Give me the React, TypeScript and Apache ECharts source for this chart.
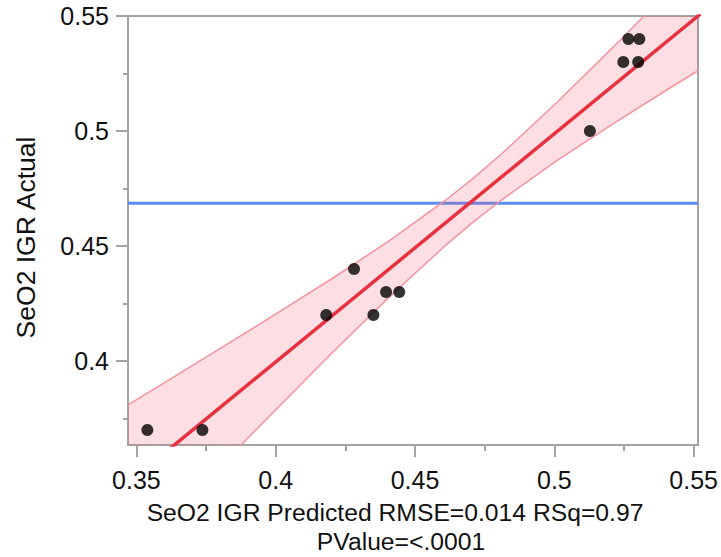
import React, { useEffect, useRef } from "react";
import * as echarts from "echarts";

// Observed points (predicted vs actual)
const predicted = [0.3539, 0.3735, 0.4176, 0.4275, 0.4344, 0.4389, 0.4436, 0.5115, 0.5234, 0.5287, 0.5252, 0.5291];
const actual = [0.37, 0.37, 0.42, 0.44, 0.42, 0.43, 0.43, 0.50, 0.53, 0.53, 0.54, 0.54];

// Fit line (actual = predicted)
const fitX = [0.34, 0.56];
const fitY = [0.34, 0.56];

// Mean of actual (horizontal reference)
const meanX = [0.347, 0.55];
const meanY = [0.4686, 0.4686];

// Confidence band
const bandX = [0.347, 0.36, 0.38, 0.40, 0.42, 0.44, 0.46, 0.47, 0.48, 0.50, 0.52, 0.54, 0.55];
const bandUpper = [0.3809, 0.3906, 0.4056, 0.4207, 0.4361, 0.4522, 0.4698, 0.4795, 0.4900, 0.5127, 0.5367, 0.5613, 0.5738];
const bandLower = [0.3131, 0.3294, 0.3545, 0.3793, 0.4039, 0.4278, 0.4502, 0.4605, 0.4700, 0.4873, 0.5033, 0.5187, 0.5262];

// Axis ranges / ticks
const xRange = [0.347, 0.55];
const yRange = [0.3635, 0.55];
const xTickRange = [0.35, 0.55];
const yMajorRange = [0.4, 0.55];
const yMinorRange = [0.375, 0.525];
const tickStep = 0.05;

const xTitle1 = "SeO2 IGR Predicted RMSE=0.014 RSq=0.97";
const xTitle2 = "PValue=<.0001";
const yTitle = "SeO2 IGR Actual";

const FONT = "'Liberation Sans', Arial, Helvetica, sans-serif";
const GRAY = "#a3a3a3";

export default function App() {
  const ref = useRef<HTMLDivElement>(null);

  useEffect(() => {
    document.body.style.margin = "0";
    if (!ref.current) return;
    const chart = echarts.init(ref.current, null, { renderer: "svg" });

    const hiddenAxis = (gridIndex: number) => ({
      type: "value",
      gridIndex,
      min: 0,
      max: 1,
      show: false,
    });

    const zip = (a: number[], b: number[]) => a.map((v, i) => [v, b[i]]);

    const option: any = {
      animation: false,
      backgroundColor: "#ffffff",
      textStyle: { fontFamily: FONT },
      grid: [
        { left: 128, right: 23, top: 16, bottom: 112, show: true, borderColor: GRAY, borderWidth: 2, backgroundColor: "transparent" },
        { left: 128, right: 23, top: 16, height: 345 },
        { left: 128, right: 23, top: 73.5, height: 345 },
        { left: 136.4, right: 23, top: 16, bottom: 112 },
      ],
      xAxis: [
        { type: "value", gridIndex: 0, min: xRange[0], max: xRange[1], show: false },
        hiddenAxis(1),
        hiddenAxis(2),
        {
          type: "value",
          gridIndex: 3,
          min: xTickRange[0],
          max: xTickRange[1],
          interval: tickStep,
          axisLine: { show: false },
          axisTick: { show: true, length: 12, lineStyle: { color: GRAY, width: 2 } },
          minorTick: { show: true, splitNumber: 2, length: 6, lineStyle: { color: GRAY, width: 2 } },
          splitLine: { show: false },
          axisLabel: { margin: 22, fontSize: 25, color: "#111", fontFamily: FONT },
        },
      ],
      yAxis: [
        { type: "value", gridIndex: 0, min: yRange[0], max: yRange[1], show: false },
        {
          type: "value",
          gridIndex: 1,
          min: yMajorRange[0],
          max: yMajorRange[1],
          interval: tickStep,
          axisLine: { show: false },
          axisTick: { show: true, length: 12, lineStyle: { color: GRAY, width: 2 } },
          splitLine: { show: false },
          axisLabel: { margin: 19, fontSize: 25, color: "#111", fontFamily: FONT },
        },
        {
          type: "value",
          gridIndex: 2,
          min: yMinorRange[0],
          max: yMinorRange[1],
          interval: tickStep,
          axisLine: { show: false },
          axisTick: { show: true, length: 5, lineStyle: { color: GRAY, width: 2 } },
          splitLine: { show: false },
          axisLabel: { show: false },
        },
        hiddenAxis(3),
      ],
      graphic: [
        {
          type: "text",
          x: 26,
          y: 237.5,
          rotation: Math.PI / 2,
          style: { text: yTitle, fontSize: 26.5, fontFamily: FONT, fill: "#111", align: "center", verticalAlign: "middle" },
        },
        {
          type: "text",
          x: 395,
          y: 512.5,
          style: { text: xTitle1, fontSize: 24.7, fontFamily: FONT, fill: "#111", align: "center", verticalAlign: "middle" },
        },
        {
          type: "text",
          x: 401,
          y: 541,
          style: { text: xTitle2, fontSize: 24.7, fontFamily: FONT, fill: "#111", align: "center", verticalAlign: "middle" },
        },
      ],
      series: [
        {
          type: "line",
          xAxisIndex: 0,
          yAxisIndex: 0,
          data: zip(meanX, meanY),
          symbol: "none",
          lineStyle: { color: "#5b8cf2", width: 3 },
          z: 1,
        },
        {
          type: "custom",
          xAxisIndex: 0,
          yAxisIndex: 0,
          clip: true,
          data: [[bandX[0], bandUpper[0]]],
          renderItem: (params: any, api: any) => {
            const pts: number[][] = [];
            for (let i = 0; i < bandX.length; i++) pts.push(api.coord([bandX[i], bandUpper[i]]));
            for (let i = bandX.length - 1; i >= 0; i--) pts.push(api.coord([bandX[i], bandLower[i]]));
            return {
              type: "polygon",
              shape: { points: pts },
              style: { fill: "rgba(244, 80, 100, 0.18)", stroke: "none" },
            };
          },
          z: 2,
        },
        {
          type: "line",
          xAxisIndex: 0,
          yAxisIndex: 0,
          data: zip(bandX, bandUpper),
          symbol: "none",
          lineStyle: { color: "#f3939c", width: 1.5 },
          z: 3,
        },
        {
          type: "line",
          xAxisIndex: 0,
          yAxisIndex: 0,
          data: zip(bandX, bandLower),
          symbol: "none",
          lineStyle: { color: "#f3939c", width: 1.5 },
          z: 3,
        },
        {
          type: "line",
          xAxisIndex: 0,
          yAxisIndex: 0,
          data: zip(fitX, fitY),
          symbol: "none",
          lineStyle: { color: "#e9303f", width: 3.5 },
          z: 4,
        },
        {
          type: "scatter",
          xAxisIndex: 0,
          yAxisIndex: 0,
          data: zip(predicted, actual),
          symbol: "circle",
          symbolSize: 12,
          itemStyle: { color: "#000000" },
          z: 5,
        },
      ],
    };

    chart.setOption(option);
    return () => chart.dispose();
  }, []);

  return (
    <div
      ref={ref}
      style={{ position: "fixed", left: 0, top: 0, width: 721, height: 557 }}
    />
  );
}
